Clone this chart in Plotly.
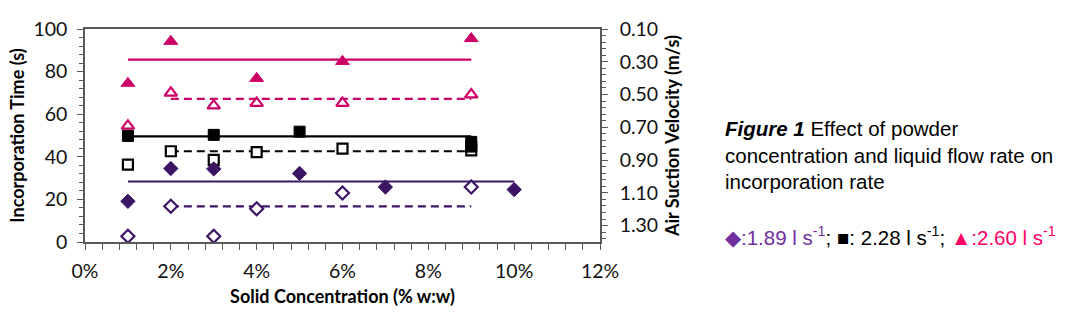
import plotly.graph_objects as go

# ---- data ----
tri_fill_x = [0.01, 0.02, 0.04, 0.06, 0.09]
tri_fill_y = [74.5, 94.2, 76.8, 84.8, 95.5]
tri_open_x = [0.01, 0.02, 0.03, 0.04, 0.06, 0.09]
tri_open_y = [54.5, 70.0, 64.0, 65.2, 65.2, 69.2]
sq_fill_x = [0.01, 0.03, 0.05, 0.09, 0.09]
sq_fill_y = [49.8, 50.3, 51.8, 47.0, 44.8]
sq_open_x = [0.01, 0.02, 0.03, 0.04, 0.06, 0.09]
sq_open_y = [36.3, 42.6, 38.6, 42.2, 43.8, 43.0]
dia_fill_x = [0.01, 0.02, 0.03, 0.05, 0.07, 0.10]
dia_fill_y = [19.1, 34.5, 34.3, 32.2, 25.8, 24.6]
dia_open_x = [0.01, 0.02, 0.03, 0.04, 0.06, 0.09]
dia_open_y = [2.7, 16.8, 2.7, 15.6, 23.0, 25.8]

mean_tri_fill_x = [0.01, 0.09]; mean_tri_fill_y = [85.6, 85.6]
mean_tri_open_x = [0.02, 0.09]; mean_tri_open_y = [67.2, 67.2]
mean_sq_fill_x = [0.01, 0.09]; mean_sq_fill_y = [49.6, 49.6]
mean_sq_open_x = [0.02, 0.09]; mean_sq_open_y = [42.6, 42.6]
mean_dia_fill_x = [0.01, 0.10]; mean_dia_fill_y = [28.4, 28.4]
mean_dia_open_x = [0.02, 0.09]; mean_dia_open_y = [16.7, 16.7]

velocity_ticks = [0.10, 0.30, 0.50, 0.70, 0.90, 1.10, 1.30]
velocity_range = [1.40, 0.10]

PINK = "#CC0066"
BLACK = "#000000"
PURPLE = "#3C1464"

fig = go.Figure()

def line(x, y, color, dash):
    fig.add_trace(go.Scatter(x=x, y=y, mode="lines",
                             line=dict(color=color, width=2.2, dash=dash),
                             hoverinfo="skip", showlegend=False))

def pts(x, y, color, symbol, size, hollow):
    fig.add_trace(go.Scatter(x=x, y=y, mode="markers",
                             marker=dict(color="white" if hollow else color,
                                         symbol=symbol, size=size,
                                         line=dict(color=color, width=2.2 if hollow else 1)),
                             hoverinfo="skip", showlegend=False))

DASH = "8px,5px"
line(mean_tri_fill_x, mean_tri_fill_y, PINK, "solid")
line(mean_tri_open_x, mean_tri_open_y, PINK, DASH)
line(mean_sq_fill_x, mean_sq_fill_y, BLACK, "solid")
line(mean_sq_open_x, mean_sq_open_y, BLACK, DASH)
line(mean_dia_fill_x, mean_dia_fill_y, PURPLE, "solid")
line(mean_dia_open_x, mean_dia_open_y, PURPLE, DASH)

pts(tri_open_x, tri_open_y, PINK, "triangle-up", 11, True)
pts(tri_fill_x, tri_fill_y, PINK, "triangle-up", 12, False)
pts(sq_open_x, sq_open_y, BLACK, "square", 10, True)
pts(sq_fill_x, sq_fill_y, BLACK, "square", 11, False)
pts(dia_open_x, dia_open_y, PURPLE, "diamond", 10, True)
pts(dia_fill_x, dia_fill_y, PURPLE, "diamond", 11, False)

# invisible trace to activate the right axis
fig.add_trace(go.Scatter(x=[0.0], y=[velocity_ticks[0]], yaxis="y2", mode="markers",
                         marker=dict(opacity=0), hoverinfo="skip", showlegend=False))

AX = "#595959"
TICKFONT = dict(family="Lato", size=19.5, color="#111111")
TITLEFONT = dict(family="Lato", size=18, color="#000000", weight="bold")

fig.update_layout(
    width=1090, height=322,
    margin=dict(l=85, r=490, t=29, b=80),
    paper_bgcolor="white", plot_bgcolor="white",
    xaxis=dict(range=[0, 0.12], dtick=0.02, tick0=0, tickformat=".0%",
               showgrid=False, zeroline=False, showline=True, linecolor=AX, linewidth=1.5,
               mirror=True, ticks="outside", ticklen=6, tickcolor=AX,
               minor=dict(dtick=0.004, ticks="outside", ticklen=6, tickcolor=AX),
               tickfont=TICKFONT, ticklabelstandoff=5,
               title=dict(text="Solid Concentration (% w:w)", font=TITLEFONT, standoff=9)),
    yaxis=dict(range=[0, 100], dtick=20, showgrid=False, zeroline=False,
               showline=True, linecolor=AX, linewidth=1.5,
               ticks="outside", ticklen=6, tickcolor=AX,
               minor=dict(dtick=4, ticks="outside", ticklen=4, tickcolor=AX),
               tickfont=TICKFONT, ticklabelstandoff=6,
               title=dict(text="Incorporation Time (s)", font=TITLEFONT, standoff=4)),
    yaxis2=dict(overlaying="y", side="right", range=velocity_range,
                tickvals=velocity_ticks, ticktext=[f"{v:.2f}" for v in velocity_ticks],
                showgrid=False, zeroline=False, showline=True, linecolor=AX, linewidth=1.5,
                ticks="outside", ticklen=6, tickcolor=AX,
                minor=dict(tick0=0.1, dtick=0.04, ticks="outside", ticklen=4, tickcolor=AX),
                tickfont=TICKFONT, ticklabelstandoff=8,
                title=dict(text="Air Suction Velocity (m/s)", font=TITLEFONT, standoff=9)),
)

def px_x(p):
    return (p - 85) / 515.0

def px_y(p):
    return (242 - p) / 213.0

CAP = dict(family="Liberation Sans, Arial", size=20.5, color="#000000")
caption_lines = ["<b><i>Figure 1</i></b> Effect of powder",
                 "concentration and liquid flow rate on",
                 "incorporation rate"]
for txt, yy in zip(caption_lines, [128, 155, 181.5]):
    fig.add_annotation(text=txt, xref="paper", yref="paper", x=px_x(723), y=px_y(yy),
                       xanchor="left", yanchor="middle", showarrow=False, font=CAP)

legend_txt = ('<span style="color:#7030A0">◆:1.89 l s<sup>-1</sup></span>; '
              '■: 2.28 l s<sup>-1</sup>; '
              '<span style="color:#FF0066">▲:2.60 l s<sup>-1</sup></span>')
fig.add_annotation(text=legend_txt, xref="paper", yref="paper", x=px_x(723), y=px_y(236),
                   xanchor="left", yanchor="middle", showarrow=False, font=CAP)

fig.write_html("out.html")
